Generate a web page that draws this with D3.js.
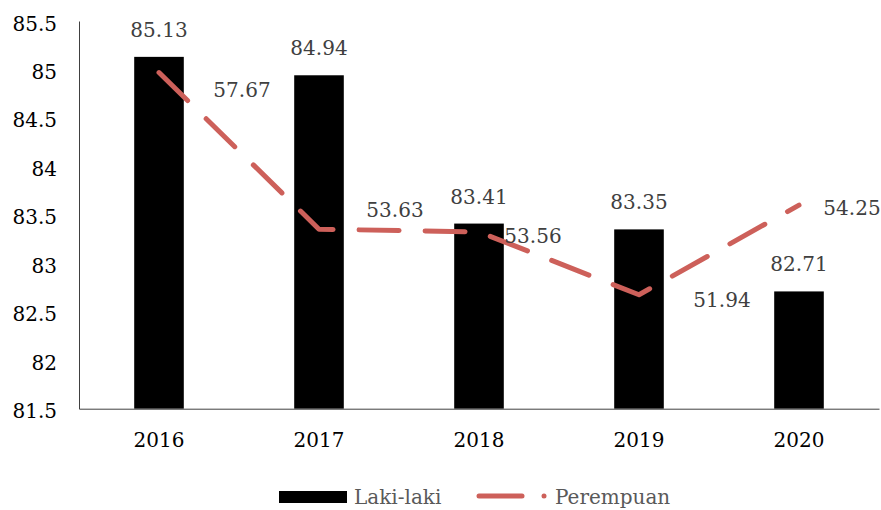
<!DOCTYPE html>
<html>
<head>
<meta charset="utf-8">
<script src="https://cdn.jsdelivr.net/npm/d3@7"></script>
<style>
  body { margin: 0; background: #fff; }
  text { font-family: "DejaVu Serif", serif; font-size: 20px; }
</style>
</head>
<body>
<div id="chart"></div>
<script>
// data
var years = ["2016", "2017", "2018", "2019", "2020"];
var lakiLaki = [85.13, 84.94, 83.41, 83.35, 82.71];
var perempuan = [57.67, 53.63, 53.56, 51.94, 54.25];
var yTicks = [81.5, 82, 82.5, 83, 83.5, 84, 84.5, 85, 85.5];

// label nudges for the line labels (placed by hand in the original)
var lineLabelDx = [83, 76, 54, 83, 53];
var lineLabelDy = [17, -19, 4, 5, 3];

var svgWidth = 881;
var svgHeight = 510;
var plotLeft = 79, plotRight = 879, plotTop = 21, plotBottom = 408.7;

var svg = d3.select("#chart")
  .append("svg")
  .attr("width", svgWidth)
  .attr("height", svgHeight);

var xScale = d3.scaleBand()
  .domain(years)
  .range([plotLeft, plotRight])
  .paddingInner(0.69)
  .paddingOuter(0.345);

var yScale = d3.scaleLinear()
  .domain([81.5, 85.5])
  .range([plotBottom, plotTop]);

// hidden secondary axis for the line
var y2Scale = d3.scaleLinear()
  .domain([49, 59])
  .range([plotBottom, plotTop]);

var xCenter = function(i) { return xScale(years[i]) + xScale.bandwidth() / 2; };

// bars
svg.selectAll("rect.bar")
  .data(lakiLaki)
  .enter()
  .append("rect")
  .attr("class", "bar")
  .attr("x", function(d, i) { return xScale(years[i]); })
  .attr("y", function(d) { return yScale(d); })
  .attr("width", xScale.bandwidth())
  .attr("height", function(d) { return plotBottom - yScale(d); })
  .attr("fill", "#000");

// y axis
var yAxis = d3.axisLeft(yScale)
  .tickValues(yTicks)
  .tickSize(0)
  .tickPadding(22)
  .tickFormat(function(d) { return d3.format("")(d); });

var gy = svg.append("g")
  .attr("transform", "translate(" + plotLeft + ",0)")
  .call(yAxis);
gy.select(".domain").attr("stroke", "#404040").attr("stroke-width", 1);
gy.selectAll("text")
  .attr("fill", "#000")
  .attr("font-family", "DejaVu Serif")
  .attr("font-size", 20)
  .attr("dy", "0.45em");

// x axis
var xAxis = d3.axisBottom(xScale).tickSize(0).tickPadding(24);
var gx = svg.append("g")
  .attr("transform", "translate(0," + plotBottom + ")")
  .call(xAxis);
gx.select(".domain").attr("stroke", "#404040").attr("stroke-width", 1);
gx.selectAll("text")
  .attr("fill", "#000")
  .attr("font-family", "DejaVu Serif")
  .attr("font-size", 20);

// line
var line = d3.line()
  .x(function(d, i) { return xCenter(i); })
  .y(function(d) { return y2Scale(d); });

svg.append("path")
  .datum(perempuan)
  .attr("d", line)
  .attr("fill", "none")
  .attr("stroke", "#cd605a")
  .attr("stroke-width", 5)
  .attr("stroke-linecap", "round")
  .attr("stroke-linejoin", "round")
  .attr("stroke-dasharray", "40 26");

// bar labels
svg.selectAll("text.barLabel")
  .data(lakiLaki)
  .enter()
  .append("text")
  .attr("class", "barLabel")
  .attr("x", function(d, i) { return xCenter(i); })
  .attr("y", function(d) { return yScale(d) - 27; })
  .attr("dy", "0.35em")
  .attr("text-anchor", "middle")
  .attr("fill", "#404040")
  .text(function(d) { return d.toFixed(2); });

// line labels
svg.selectAll("text.lineLabel")
  .data(perempuan)
  .enter()
  .append("text")
  .attr("class", "lineLabel")
  .attr("x", function(d, i) { return xCenter(i) + lineLabelDx[i]; })
  .attr("y", function(d, i) { return y2Scale(d) + lineLabelDy[i]; })
  .attr("dy", "0.35em")
  .attr("text-anchor", "middle")
  .attr("fill", "#404040")
  .text(function(d) { return d.toFixed(2); });

// legend
var legend = svg.append("g");
legend.append("rect")
  .attr("x", 279).attr("y", 491)
  .attr("width", 68).attr("height", 12)
  .attr("fill", "#000");
legend.append("text")
  .attr("x", 354).attr("y", 497)
  .attr("dy", "0.35em")
  .attr("fill", "#595959")
  .text("Laki-laki");
legend.append("line")
  .attr("x1", 479).attr("x2", 522)
  .attr("y1", 496).attr("y2", 496)
  .attr("stroke", "#cd605a")
  .attr("stroke-width", 5)
  .attr("stroke-linecap", "round");
legend.append("circle")
  .attr("cx", 544).attr("cy", 496)
  .attr("r", 2.5)
  .attr("fill", "#cd605a");
legend.append("text")
  .attr("x", 555).attr("y", 497)
  .attr("dy", "0.35em")
  .attr("fill", "#595959")
  .text("Perempuan");
</script>
</body>
</html>
